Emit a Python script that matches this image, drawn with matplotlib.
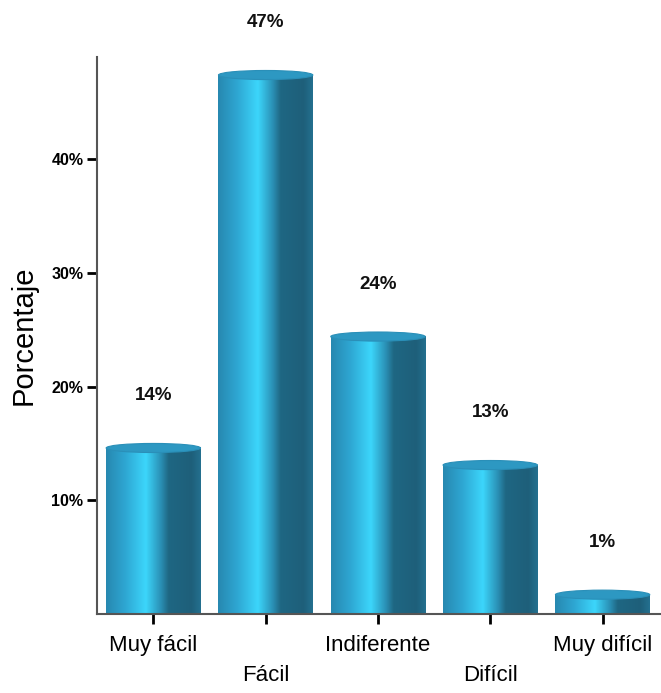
import numpy as np
import matplotlib.pyplot as plt
from matplotlib.colors import LinearSegmentedColormap
from matplotlib.patches import Ellipse

categories = ['Muy fácil', 'Fácil', 'Indiferente', 'Difícil', 'Muy difícil']
values = [14.6, 47.4, 24.4, 13.1, 1.7]
labels = ['14%', '47%', '24%', '13%', '1%']
yticks = [10, 20, 30, 40]
ytick_labels = ['10%', '20%', '30%', '40%']

plt.rcParams['font.family'] = ['Liberation Sans', 'DejaVu Sans']

# horizontal shading for the cylinder look
cyl = LinearSegmentedColormap.from_list('cyl', [
    (0.0, '#2788b0'), (0.2, '#2ea6d2'), (0.42, '#3cd6fb'),
    (0.58, '#2a8fb4'), (0.66, '#1f6783'), (0.9, '#1e5f7a'), (1.0, '#24708f')])
grad = np.linspace(0, 1, 256).reshape(1, -1)

fig = plt.figure(figsize=(6.61, 6.93), dpi=100)
ax = fig.add_axes([0.147, 0.114, 0.853, 0.804])

bw = 0.84
x = np.arange(len(categories))
bars = ax.bar(x, values, width=bw, color='none', edgecolor='none')
for b, lab in zip(bars, labels):
    x0, w, h = b.get_x(), b.get_width(), b.get_height()
    ax.imshow(grad, cmap=cyl, extent=(x0, x0 + w, 0, h), aspect='auto', zorder=2)
    ax.add_patch(Ellipse((x0 + w / 2, h), w, 0.8, facecolor='#2d98c2',
                         edgecolor='#2a8fb8', lw=0.8, zorder=3))
    ax.text(x0 + w / 2, h + 4.6, lab, ha='center', va='center',
            fontsize=13.5, fontweight='bold', color='#111111')

ax.set_xlim(-0.5, 4.52)
ax.set_ylim(0, 49)
ax.set_yticks(yticks)
ax.set_yticklabels(ytick_labels, fontsize=11.5, fontweight='bold')
ax.set_xticks(x)
ax.set_xticklabels([c if i % 2 == 0 else '\n' + c for i, c in enumerate(categories)],
                   fontsize=16, linespacing=1.6)
ax.tick_params(axis='both', length=7, width=2, color='black')
ax.tick_params(axis='x', pad=8)
ax.tick_params(axis='y', pad=3)
ax.set_ylabel('Porcentaje', fontsize=21, labelpad=10)

for s in ['top', 'right']:
    ax.spines[s].set_visible(False)
for s in ['left', 'bottom']:
    ax.spines[s].set_color('#555555')
    ax.spines[s].set_linewidth(1.5)

fig.savefig('out.png', dpi=100)
